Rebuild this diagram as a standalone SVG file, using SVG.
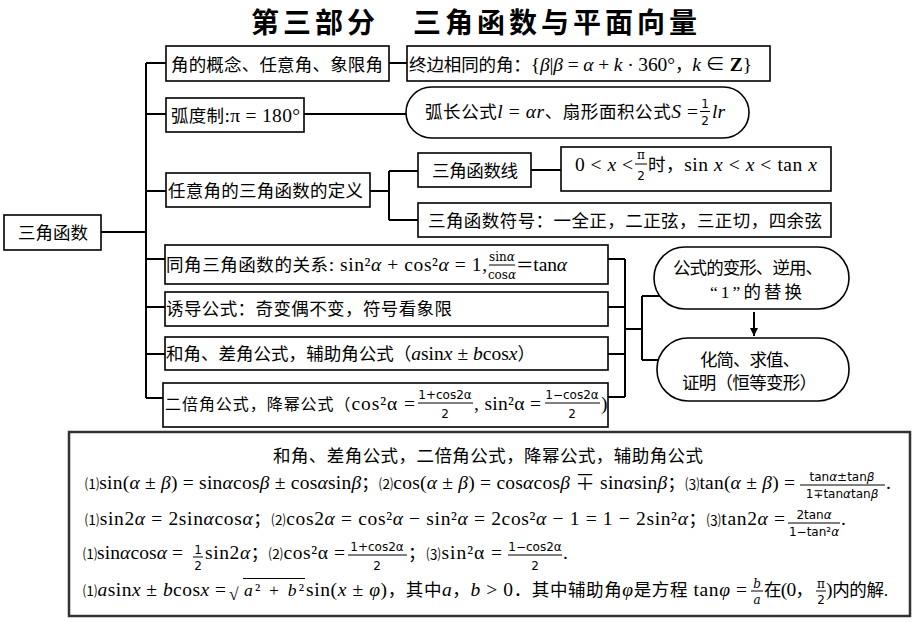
<svg xmlns="http://www.w3.org/2000/svg" width="916" height="622" viewBox="0 0 916 622">
<style>
.bx{fill:#fff;stroke:#000;stroke-width:1.6}
.ln{fill:none;stroke:#000;stroke-width:2}
.t{font-family:"Liberation Serif","Noto Sans CJK SC",serif;font-size:17.5px;fill:#000}
.m{font-size:19.5px}
.cj{font-size:17.5px}
.f{font-family:"DejaVu Sans","Noto Sans CJK SC",sans-serif;font-size:12px;fill:#000;text-anchor:middle}
.fs{font-family:"DejaVu Serif","Liberation Serif",serif;font-size:12px;fill:#000;text-anchor:middle}
.fb{stroke:#000;stroke-width:1}
.i{font-style:italic}
.n{font-size:14px}
.ttl{font-family:"Noto Sans CJK SC",sans-serif;font-size:28px;font-weight:700;fill:#000}
</style>
<defs>
<marker id="ah" viewBox="0 0 10 10" refX="10" refY="5" markerWidth="9" markerHeight="8" markerUnits="userSpaceOnUse" orient="auto"><path d="M0,0 L10,5 L0,10 z" fill="#000"/></marker>
</defs>
<rect width="916" height="622" fill="#fff"/>

<g id="title">
<text class="ttl" x="251" y="33" textLength="124">第三部分</text>
<text class="ttl" x="413" y="33" textLength="284">三角函数与平面向量</text>
</g>

<g id="connectors">
<path class="ln" d="M101,232 H146 M146,63 V398 M146,63 H166 M146,114 H166 M146,191 H166 M146,259 H165 M146,307 H165 M146,354 H165 M146,398 H163"/>
<path class="ln" d="M389,63 H407 M304,114 H406"/>
<path class="ln" d="M370,191 H389 M389,171 V220 M389,171 H418 M389,220 H418 M531,170 H561"/>
<path class="ln" d="M608,259 H625 M608,307 H625 M608,354 H625 M608,397 H625 M625,259 V397 M625,329 H642 M642,296 V360 M642,296 H660 M642,360 H658"/>
<path class="ln" d="M754,312 V336" marker-end="url(#ah)"/>
</g>

<g id="root">
<rect class="bx" x="4" y="215" width="97" height="35"/>
<text class="t" x="18" y="239" textLength="70">三角函数</text>
</g>

<g id="n-concept">
<rect class="bx" x="166" y="46" width="223" height="35"/>
<text class="t" x="171" y="71" textLength="212">角的概念、任意角、象限角</text>
</g>

<g id="n-coterminal">
<rect class="bx" x="407" y="46" width="363" height="35"/>
<text class="t" x="409" y="71" textLength="343">终边相同的角：<tspan class="m">{<tspan class="i">β</tspan>|<tspan class="i">β</tspan> = <tspan class="i">α</tspan> + <tspan class="i">k</tspan> · 360°</tspan>，<tspan class="m"><tspan class="i">k</tspan> ∈ <tspan font-weight="700">Z</tspan>}</tspan></text>
</g>

<g id="n-radian">
<rect class="bx" x="166" y="98" width="138" height="34"/>
<text class="t" x="171" y="122" textLength="129">弧度制<tspan class="m">:π = 180°</tspan></text>
</g>

<g id="n-arc">
<rect class="bx" x="406" y="87" width="343" height="51" rx="25.5"/>
<text class="t" x="425" y="118" textLength="273">弧长公式<tspan class="m i">l</tspan><tspan class="m"> = </tspan><tspan class="m i">αr</tspan>、扇形面积公式<tspan class="m i">S</tspan><tspan class="m"> = </tspan></text>
<text class="f" x="705" y="108" font-size="11">1</text>
<line class="fb" x1="700" y1="111.5" x2="710" y2="111.5"/>
<text class="f" x="705" y="125" font-size="11">2</text>
<text class="t m i" x="712" y="118">lr</text>
</g>

<g id="n-def">
<rect class="bx" x="166" y="173" width="204" height="34"/>
<text class="t" x="168" y="197" textLength="195">任意角的三角函数的定义</text>
</g>

<g id="n-line">
<rect class="bx" x="418" y="153" width="113" height="34"/>
<text class="t" x="432" y="177" textLength="86">三角函数线</text>
</g>

<g id="n-ineq">
<rect class="bx" x="561" y="147" width="270" height="44"/>
<text class="t m" x="575" y="171" textLength="58">0 &lt; <tspan class="i">x</tspan> &lt;</text>
<text class="fs" x="641" y="159">π</text>
<line class="fb" x1="635" y1="164" x2="647" y2="164"/>
<text class="f" x="641" y="179.5" font-size="11">2</text>
<text class="t m" x="648" y="171" textLength="169"><tspan class="cj">时，</tspan>sin <tspan class="i">x</tspan> &lt; <tspan class="i">x</tspan> &lt; tan <tspan class="i">x</tspan></text>
</g>

<g id="n-sign">
<rect class="bx" x="418" y="203" width="413" height="34"/>
<text class="t" x="428" y="227" textLength="394">三角函数符号：一全正，二正弦，三正切，四余弦</text>
</g>

<g id="n-same">
<rect class="bx" x="165" y="245" width="443" height="39"/>
<text class="t" x="166" y="271" textLength="321">同角三角函数的关系<tspan class="m">: sin²<tspan class="i">α</tspan> + cos²<tspan class="i">α</tspan> = 1, </tspan></text>
<text class="fs" x="502" y="261">sin<tspan class="i">α</tspan></text>
<line class="fb" x1="489" y1="265" x2="515" y2="265"/>
<text class="fs" x="502" y="279">cos<tspan class="i">α</tspan></text>
<text class="t" x="516" y="271" textLength="51">＝<tspan class="m">tan<tspan class="i">α</tspan></tspan></text>
</g>

<g id="n-induce">
<rect class="bx" x="165" y="292" width="443" height="34"/>
<text class="t" x="166" y="315" textLength="286">诱导公式：奇变偶不变，符号看象限</text>
</g>

<g id="n-sum">
<rect class="bx" x="165" y="337" width="443" height="33"/>
<text class="t" x="166" y="360" textLength="369">和角、差角公式，辅助角公式（<tspan class="m"><tspan class="i">a</tspan>sin<tspan class="i">x</tspan> ± <tspan class="i">b</tspan>cos<tspan class="i">x</tspan></tspan>）</text>
</g>

<g id="n-double">
<rect class="bx" x="163" y="383" width="445" height="44"/>
<text class="t" x="165" y="410" textLength="250"><tspan font-size="16">二倍角公式，降幂公式（</tspan><tspan class="m">cos²α = </tspan></text>
<text class="f" x="445" y="399">1+cos2α</text>
<line class="fb" x1="418" y1="403" x2="473" y2="403"/>
<text class="f" x="445" y="418">2</text>
<text class="t m" x="474" y="410" textLength="67">, sin²α = </text>
<text class="f" x="572" y="399">1−cos2α</text>
<line class="fb" x1="545" y1="403" x2="600" y2="403"/>
<text class="f" x="572" y="418">2</text>
<text class="t m" x="601" y="410">)</text>
</g>

<g id="n-transform">
<rect class="bx" x="654" y="247" width="195" height="62" rx="31"/>
<text class="t" x="673" y="274" textLength="150">公式的变形、逆用、</text>
<text class="t" x="710" y="298" textLength="92">“1”的替换</text>
</g>

<g id="n-simplify">
<rect class="bx" x="657" y="338" width="192" height="63" rx="31"/>
<text class="t" x="700" y="366" textLength="100">化简、求值、</text>
<text class="t" x="682" y="389" textLength="135">证明（恒等变形）</text>
</g>

<g id="formulas">
<rect x="69" y="432" width="841" height="184" fill="#fff" stroke="#333" stroke-width="2.5"/>
<text class="t" x="273" y="462" textLength="430">和角、差角公式，二倍角公式，降幂公式，辅助角公式</text>

<text class="t m" x="85" y="489" textLength="710"><tspan class="n">⑴</tspan>sin(<tspan class="i">α</tspan> ± <tspan class="i">β</tspan>) = sin<tspan class="i">α</tspan>cos<tspan class="i">β</tspan> ± cos<tspan class="i">α</tspan>sin<tspan class="i">β</tspan><tspan class="cj">；</tspan><tspan class="n">⑵</tspan>cos(<tspan class="i">α</tspan> ± <tspan class="i">β</tspan>) = cos<tspan class="i">α</tspan>cos<tspan class="i">β</tspan> ∓ sin<tspan class="i">α</tspan>sin<tspan class="i">β</tspan><tspan class="cj">；</tspan><tspan class="n">⑶</tspan>tan(<tspan class="i">α</tspan> ± <tspan class="i">β</tspan>) =</text>
<text class="f" x="842" y="481" font-size="11.5">tan<tspan class="i">α</tspan>±tan<tspan class="i">β</tspan></text>
<line class="fb" x1="800" y1="485" x2="885" y2="485"/>
<text class="f" x="842" y="497.5" font-size="11.5">1∓tan<tspan class="i">α</tspan>tan<tspan class="i">β</tspan></text>
<text class="t m" x="886" y="489">.</text>

<text class="t m" x="85" y="525" textLength="700"><tspan class="n">⑴</tspan>sin2<tspan class="i">α</tspan> = 2sin<tspan class="i">α</tspan>cos<tspan class="i">α</tspan><tspan class="cj">；</tspan><tspan class="n">⑵</tspan>cos2<tspan class="i">α</tspan> = cos²<tspan class="i">α</tspan> − sin²<tspan class="i">α</tspan> = 2cos²<tspan class="i">α</tspan> − 1 = 1 − 2sin²<tspan class="i">α</tspan><tspan class="cj">；</tspan><tspan class="n">⑶</tspan>tan2<tspan class="i">α</tspan> =</text>
<text class="f" x="814" y="519">2tan<tspan class="i">α</tspan></text>
<line class="fb" x1="788" y1="523" x2="840" y2="523"/>
<text class="f" x="814" y="536">1−tan²<tspan class="i">α</tspan></text>
<text class="t m" x="841" y="525">.</text>

<text class="t m" x="83" y="559" textLength="100"><tspan class="n">⑴</tspan>sin<tspan class="i">α</tspan>cos<tspan class="i">α</tspan> =</text>
<text class="f" x="198" y="554" font-size="11">1</text>
<line class="fb" x1="193" y1="557" x2="203" y2="557"/>
<text class="f" x="198" y="569.5" font-size="11">2</text>
<text class="t m" x="205" y="559" textLength="140">sin2<tspan class="i">α</tspan><tspan class="cj">；</tspan><tspan class="n">⑵</tspan>cos²α =</text>
<text class="f" x="377" y="551" font-size="13">1+cos2α</text>
<line class="fb" x1="348" y1="555" x2="407" y2="555"/>
<text class="f" x="377" y="570" font-size="13">2</text>
<text class="t m" x="408" y="559" textLength="94"><tspan class="cj">；</tspan><tspan class="n">⑶</tspan>sin²α =</text>
<text class="f" x="535" y="551" font-size="13">1−cos2α</text>
<line class="fb" x1="508" y1="555" x2="562" y2="555"/>
<text class="f" x="535" y="570" font-size="13">2</text>
<text class="t m" x="563" y="559">.</text>

<text class="t m" x="83" y="596" textLength="143"><tspan class="n">⑴</tspan><tspan class="i">a</tspan>sin<tspan class="i">x</tspan> ± <tspan class="i">b</tspan>cos<tspan class="i">x</tspan> =</text>
<text class="t" x="229" y="600" font-size="26" font-family="DejaVu Serif">√</text>
<line class="fb" x1="243" y1="578.5" x2="305" y2="578.5"/>
<text class="t" x="244" y="596" font-size="21" textLength="60"><tspan class="i">a</tspan>² + <tspan class="i">b</tspan>²</text>
<text class="t m" x="306" y="596" textLength="441">sin(<tspan class="i">x</tspan> ± <tspan class="i">φ</tspan>)<tspan class="cj">，其中</tspan><tspan class="i">a</tspan><tspan class="cj">，</tspan><tspan class="i">b</tspan> &gt; 0<tspan class="cj">．其中辅助角</tspan><tspan class="i">φ</tspan><tspan class="cj">是方程</tspan> tan<tspan class="i">φ</tspan> =</text>
<text class="fs i" x="757" y="588" font-size="13">b</text>
<line class="fb" x1="751" y1="591" x2="763" y2="591"/>
<text class="fs i" x="757" y="603.5" font-size="13">a</text>
<text class="t" x="764" y="596" textLength="49">在<tspan class="m">(0</tspan>，</text>
<text class="fs" x="821" y="588">π</text>
<line class="fb" x1="816" y1="591" x2="826" y2="591"/>
<text class="f" x="821" y="603.5" font-size="11">2</text>
<text class="t" x="826" y="596" textLength="62"><tspan class="m">)</tspan>内的解.</text>
</g>
</svg>
